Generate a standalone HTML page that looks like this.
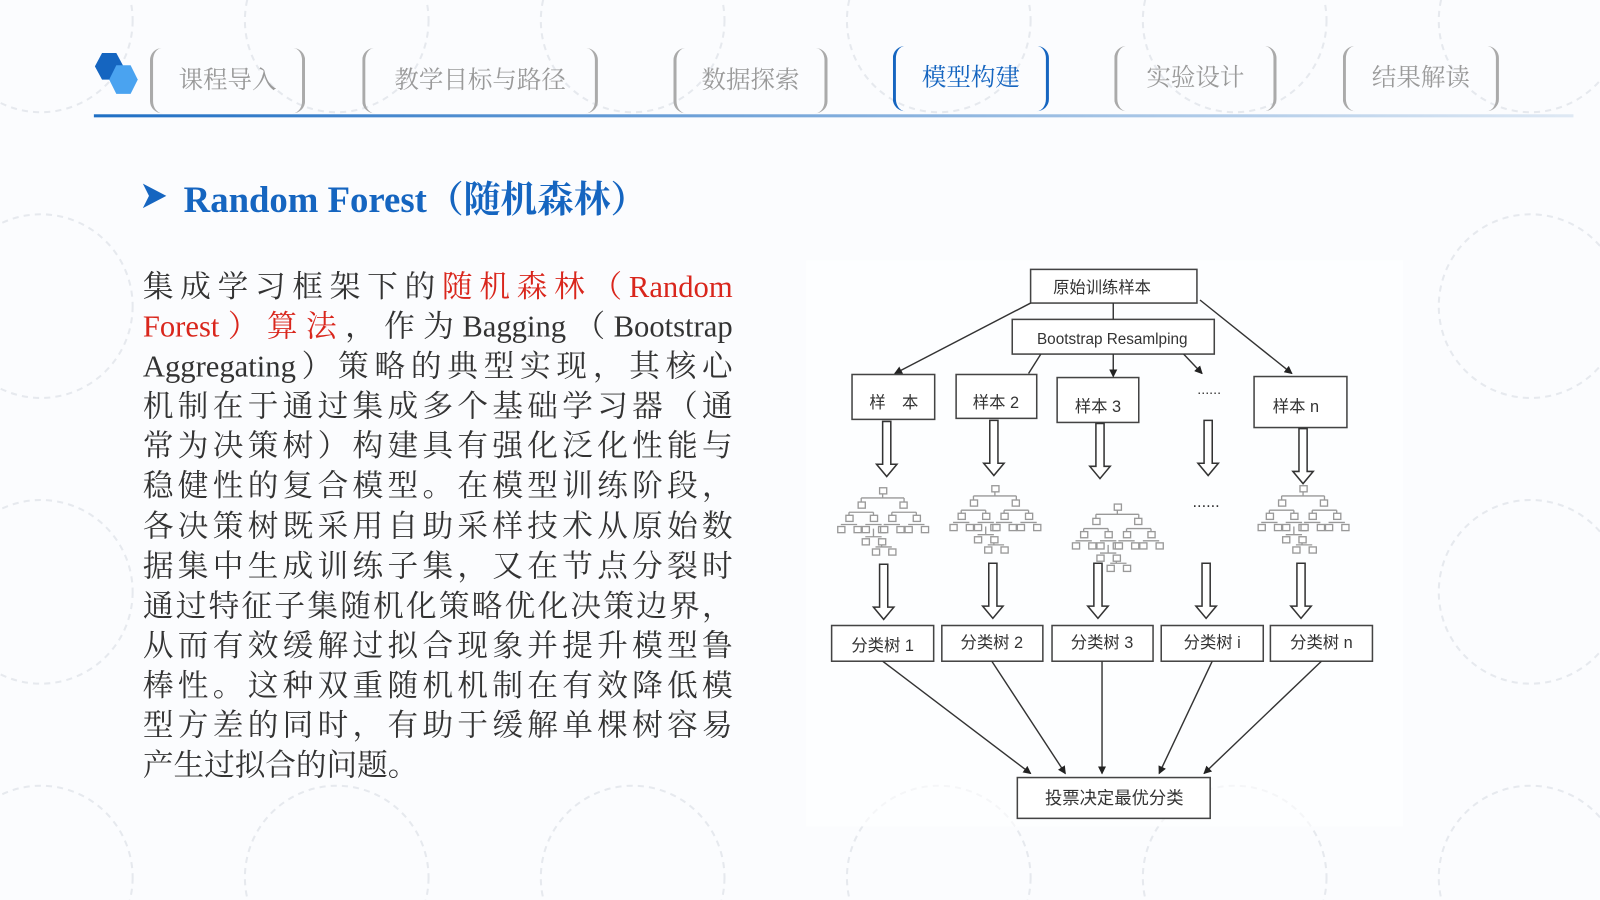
<!DOCTYPE html>
<html style="overflow:hidden"><head><meta charset="utf-8">
<style>
html,body{margin:0;padding:0;background:#fbfcfe;width:1600px;height:900px;overflow:hidden;}
body{position:relative;}
#w{position:absolute;left:0;top:0;width:1568px;height:882px;transform:scale(1.0204);transform-origin:0 0;overflow:hidden;}
.tab{position:absolute;height:64px;border-left:3px solid #aaa;border-right:3px solid #aaa;border-radius:12px;box-sizing:border-box;
 font-family:"Liberation Serif","Noto Serif CJK SC",serif;font-size:24px;color:#9a9a9a;text-align:center;line-height:64px;}
.tab.on{border-color:#1565c0;color:#1565c0;}
.p{position:absolute;left:140px;top:262px;width:578px;font-family:"Liberation Serif","Noto Serif CJK SC",serif;font-size:30px;line-height:39.1px;color:#333;}
.p div{text-align:justify;text-align-last:justify;text-justify:inter-character;height:39.1px;overflow:hidden;}
.p div.l{text-align-last:left;}
.r{color:#d9261c;}
</style></head><body><div id="w">
<svg width="1568" height="882" style="position:absolute;left:0;top:0">
 <defs><linearGradient id="g" x1="0" x2="1"><stop offset="0" stop-color="#1f6fc4"/><stop offset="1" stop-color="#dfe9f4"/></linearGradient></defs>
 <g fill="none" stroke="#e6e9ee" stroke-width="2" stroke-dasharray="6 5">
  <circle cx="40" cy="20" r="90"/><circle cx="330" cy="20" r="90"/><circle cx="620" cy="20" r="90"/><circle cx="920" cy="20" r="90"/><circle cx="1210" cy="20" r="90"/><circle cx="1500" cy="20" r="90"/>
  <circle cx="40" cy="300" r="90"/><circle cx="1500" cy="300" r="90"/><circle cx="40" cy="580" r="90"/><circle cx="1500" cy="580" r="90"/>
  <circle cx="40" cy="860" r="90"/><circle cx="330" cy="860" r="90"/><circle cx="620" cy="860" r="90"/><circle cx="920" cy="860" r="90"/><circle cx="1210" cy="860" r="90"/><circle cx="1500" cy="860" r="90"/>
 </g>
 <rect x="92" y="112" width="1450" height="3" fill="url(#g)"/>
 <polygon points="100,52 114,52 121,65 114,78 100,78 93,65" fill="#1565c0"/>
 <polygon points="114,64 128,64 135,78 128,92 114,92 107,78" fill="#4aa3f0"/>
 <polygon points="140,180 163,192 140,204 146,192" fill="#1565c0"/>
</svg>
<div class="tab" style="left:147px;top:47px;width:152px">课程导入</div>
<div class="tab" style="left:355px;top:47px;width:231px">教学目标与路径</div>
<div class="tab" style="left:660px;top:47px;width:151px">数据探索</div>
<div class="tab on" style="left:875px;top:45px;width:153px">模型构建</div>
<div class="tab" style="left:1092px;top:45px;width:159px">实验设计</div>
<div class="tab" style="left:1316px;top:45px;width:153px">结果解读</div>
<div style="position:absolute;left:180px;top:168px;font-family:'Liberation Serif','Noto Serif CJK SC',serif;font-weight:bold;font-size:36px;color:#1565c0;white-space:nowrap">Random Forest（随机森林）</div>
<div class="p">
<div>集成学习框架下的<span class="r">随机森林（Random</span></div>
<div><span class="r">Forest）算法</span>，作为Bagging（Bootstrap</div>
<div>Aggregating）策略的典型实现，其核心</div>
<div>机制在于通过集成多个基础学习器（通</div>
<div>常为决策树）构建具有强化泛化性能与</div>
<div>稳健性的复合模型。在模型训练阶段，</div>
<div>各决策树既采用自助采样技术从原始数</div>
<div>据集中生成训练子集，又在节点分裂时</div>
<div>通过特征子集随机化策略优化决策边界，</div>
<div>从而有效缓解过拟合现象并提升模型鲁</div>
<div>棒性。这种双重随机机制在有效降低模</div>
<div>型方差的同时，有助于缓解单棵树容易</div>
<div class="l">产生过拟合的问题。</div>
</div>
<svg width="1568" height="882" style="position:absolute;left:0;top:0" font-family="'Liberation Sans','Noto Sans CJK SC',sans-serif">
 <defs>
  <marker id="a" markerWidth="8" markerHeight="8" refX="7" refY="4" orient="auto" markerUnits="userSpaceOnUse"><path d="M0,0 L8,4 L0,8z" fill="#222"/></marker>
  <g id="ha"><path d="M-4,0 h8 v42 h6 l-10,12 l-10,-12 h6z" fill="#fff" stroke="#333" stroke-width="1.5"/></g>
  <g id="t" fill="#fff" stroke="#999" stroke-width="1.3">
   <path d="M45,4 V10 M24,10 H66 M24,10 V18 M66,10 V18 M12,24 H36 M54,24 H78 M12,24 V30 M36,24 V30 M54,24 V30 M78,24 V30 M4,36 H20 M28,36 H44 M46,36 H62 M70,36 H86 M36,40 V48 M28,48 H44 M44,52 V58 M38,58 H54" fill="none"/>
   <rect x="42" y="0" width="7" height="6"/><rect x="21" y="14" width="7" height="6"/><rect x="62" y="14" width="7" height="6"/>
   <rect x="9" y="27" width="7" height="6"/><rect x="33" y="27" width="7" height="6"/><rect x="51" y="27" width="7" height="6"/><rect x="75" y="27" width="7" height="6"/>
   <rect x="1" y="38" width="7" height="6"/><rect x="17" y="38" width="7" height="6"/><rect x="25" y="38" width="7" height="6"/><rect x="41" y="38" width="7" height="6"/><rect x="43" y="38" width="7" height="6"/><rect x="59" y="38" width="7" height="6"/><rect x="67" y="38" width="7" height="6"/><rect x="83" y="38" width="7" height="6"/>
   <rect x="25" y="50" width="7" height="6"/><rect x="41" y="50" width="7" height="6"/><rect x="35" y="60" width="7" height="6"/><rect x="51" y="60" width="7" height="6"/>
  </g>
 </defs>
 <rect x="790" y="255" width="585" height="555" fill="#fff" opacity="0.6"/>
 <g fill="#fff" stroke="#444" stroke-width="1.5">
  <rect x="1010" y="264" width="163" height="33"/>
  <rect x="992" y="313" width="198" height="34"/>
  <rect x="835" y="367" width="81" height="44"/>
  <rect x="937" y="367" width="79" height="43"/>
  <rect x="1036" y="370" width="80" height="44"/>
  <rect x="1229" y="369" width="91" height="50"/>
  <rect x="815" y="613" width="100" height="35"/>
  <rect x="923" y="613" width="99" height="35"/>
  <rect x="1031" y="613" width="99" height="35"/>
  <rect x="1138" y="613" width="100" height="35"/>
  <rect x="1245" y="613" width="100" height="35"/>
  <rect x="997" y="762" width="189" height="40"/>
 </g>
 <g fill="#333" font-size="16" text-anchor="middle">
  <text x="1080" y="287">原始训练样本</text>
  <text x="1090" y="337" font-size="15">Bootstrap Resamlping</text>
  <text x="876" y="400">样　本</text>
  <text x="976" y="400">样本 2</text>
  <text x="1076" y="404">样本 3</text>
  <text x="1270" y="404">样本 n</text>
  <text x="865" y="638">分类树 1</text>
  <text x="972" y="635">分类树 2</text>
  <text x="1080" y="635">分类树 3</text>
  <text x="1188" y="635">分类树 i</text>
  <text x="1295" y="635">分类树 n</text>
  <text x="1092" y="788" font-size="17">投票决定最优分类</text>
  <text x="1185" y="386" font-size="14">......</text>
  <text x="1182" y="497" font-size="16">......</text>
 </g>
 <g stroke="#333" stroke-width="1.4" fill="none" marker-end="url(#a)">
  <line x1="1010" y1="297" x2="877" y2="366"/>
  <line x1="1176" y1="294" x2="1266" y2="366"/>
  <line x1="1091" y1="347" x2="1091" y2="369"/>
  <line x1="1160" y1="347" x2="1178" y2="366"/>
  <line x1="865" y1="648" x2="1010" y2="758"/>
  <line x1="972" y1="648" x2="1044" y2="758"/>
  <line x1="1080" y1="648" x2="1080" y2="758"/>
  <line x1="1188" y1="648" x2="1136" y2="758"/>
  <line x1="1295" y1="648" x2="1180" y2="758"/>
 </g>
 <line x1="1091" y1="297" x2="1091" y2="313" stroke="#333" stroke-width="1.4"/>
 <line x1="1020" y1="347" x2="1008" y2="366" stroke="#333" stroke-width="1.4"/>
 <use href="#t" x="820" y="478"/>
 <use href="#t" x="930" y="476"/>
 <use href="#t" x="1050" y="494"/>
 <use href="#t" x="1232" y="476"/>
 <g>
  <use href="#ha" x="869" y="413"/><use href="#ha" x="974" y="412"/><use href="#ha" x="1078" y="415"/><use href="#ha" x="1184" y="412"/><use href="#ha" x="1277" y="420"/>
  <use href="#ha" x="866" y="553"/><use href="#ha" x="973" y="552"/><use href="#ha" x="1076" y="552"/><use href="#ha" x="1182" y="552"/><use href="#ha" x="1275" y="552"/>
 </g>
</svg>
</div></body></html>
